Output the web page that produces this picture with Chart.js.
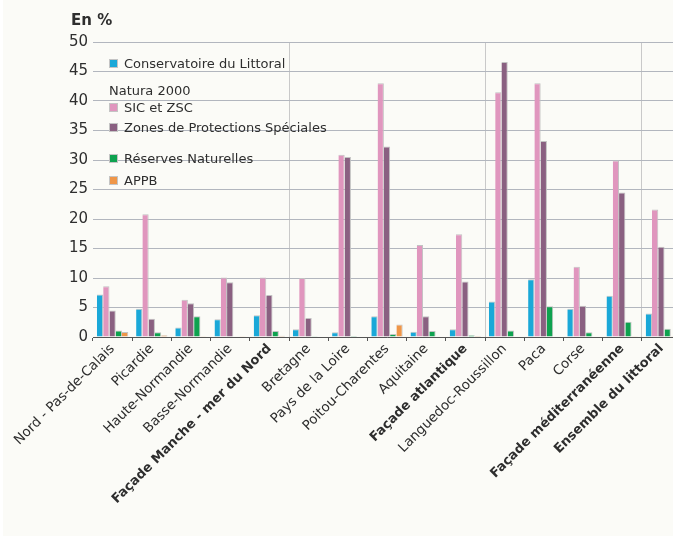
<!DOCTYPE html>
<html lang="fr">
<head>
    <meta charset="UTF-8">
    <title>Protection du littoral</title>
    <script src="https://cdn.jsdelivr.net/npm/chart.js"></script>
    <style>
        html, body {
            margin: 0;
            padding: 0;
            background: #ffffff;
            overflow: hidden;
            font-family: 'DejaVu Sans', sans-serif;
            color: #2e2e2e;
        }
        #panel {
            position: absolute;
            left: 3px;
            top: 0;
            width: 670px;
            height: 536px;
            background: #fbfbf7;
        }
        #wrap {
            position: absolute;
            left: 0;
            top: 0;
            width: 700px;
            height: 538px;
        }
        #titre {
            position: absolute;
            left: 71px;
            top: 11px;
            font-weight: bold;
            font-size: 15px;
        }
        .leg {
            position: absolute;
            font-size: 13px;
            line-height: 16px;
            white-space: nowrap;
        }
        .leg i {
            position: absolute;
            left: -15px;
            top: 3px;
            width: 9px;
            height: 9px;
            box-sizing: border-box;
            border: 1px solid #c4c4c4;
        }
    </style>
</head>
<body>

<div id="panel"></div>
<div id="wrap"><canvas id="myChart"></canvas></div>
<div id="titre">En %</div>
<div id="legende"></div>

<script>
    // données
    const regions = ['Nord - Pas-de-Calais', 'Picardie', 'Haute-Normandie', 'Basse-Normandie',
        'Façade Manche - mer du Nord', 'Bretagne', 'Pays de la Loire', 'Poitou-Charentes',
        'Aquitaine', 'Façade atlantique', 'Languedoc-Roussillon', 'Paca', 'Corse',
        'Façade méditerranéenne', 'Ensemble du littoral'];
    const facades = ['Façade Manche - mer du Nord', 'Façade atlantique', 'Façade méditerranéenne', 'Ensemble du littoral'];

    const conservatoire = [7.2, 4.8, 1.6, 3.0, 3.7, 1.3, 0.8, 3.5, 0.9, 1.3, 6.0, 9.8, 4.8, 7.0, 4.0];
    const sicZsc = [8.6, 20.8, 6.3, 10.1, 10.1, 10.0, 30.9, 43.0, 15.6, 17.4, 41.5, 43.0, 11.9, 29.9, 21.6];
    const zps = [4.5, 3.1, 5.7, 9.3, 7.1, 3.2, 30.5, 32.3, 3.5, 9.4, 46.6, 33.2, 5.3, 24.5, 15.3];
    const reserves = [1.1, 0.8, 3.5, 0.1, 1.0, 0.05, 0.15, 0.5, 1.0, 0.3, 1.1, 5.2, 0.8, 2.6, 1.4];
    const appb = [0.85, 0.3, 0.05, 0.05, 0.2, 0, 0, 2.1, 0, 0.15, 0, 0.1, 0, 0.05, 0.05];

    const seriesNames = ['Conservatoire du Littoral', 'SIC et ZSC', 'Zones de Protections Spéciales', 'Réserves Naturelles', 'APPB'];
    const seriesColors = ['#1aa8d8', '#e096be', '#8a6081', '#0ea24f', '#ef9648'];
    const seriesData = [conservatoire, sicZsc, zps, reserves, appb];

    // séparateurs verticaux avant ces index
    const separateurs = [5, 10, 14];

    Chart.defaults.font.family = "'DejaVu Sans', sans-serif";
    Chart.defaults.color = '#2e2e2e';

    const ctx = document.getElementById('myChart').getContext('2d');
    const chart = new Chart(ctx, {
        type: 'bar',
        data: {
            labels: regions,
            datasets: seriesData.map((d, i) => ({
                label: seriesNames[i],
                data: d,
                backgroundColor: seriesColors[i],
                borderColor: '#c2c2c2',
                borderWidth: { top: 1, right: 1, left: 0, bottom: 0 },
                barPercentage: 1,
                categoryPercentage: 0.8
            }))
        },
        options: {
            responsive: true,
            maintainAspectRatio: false,
            animation: false,
            layout: {
                padding: { top: 42, right: 19, bottom: 0, left: 0 }
            },
            plugins: {
                legend: { display: false },
                tooltip: { enabled: false }
            },
            scales: {
                x: {
                    afterFit: s => { s.height = 201; },
                    grid: {
                        offset: true,
                        color: c => separateurs.includes(c.index) ? '#c9c9c9' : 'rgba(0,0,0,0)',
                        tickColor: '#555',
                        tickLength: 4
                    },
                    border: { color: '#555' },
                    ticks: {
                        autoSkip: false,
                        minRotation: 45,
                        maxRotation: 45,
                        padding: 0,
                        color: '#2e2e2e',
                        font: c => (facades.includes(regions[c.index])
                            ? { size: 13, weight: 'bold' }
                            : { size: 13.5, weight: 'normal' })
                    }
                },
                y: {
                    min: 0,
                    max: 50,
                    afterFit: s => { s.width = 93; },
                    border: { display: false },
                    grid: {
                        color: '#b2b6be',
                        drawTicks: false
                    },
                    ticks: {
                        stepSize: 5,
                        padding: 5,
                        color: '#2e2e2e',
                        font: { size: 15 }
                    }
                }
            }
        }
    });

    // légende à la main (avec le titre Natura 2000)
    const legTops = [56, 100, 120, 151, 173];
    const leg = document.getElementById('legende');
    seriesNames.forEach((n, i) => {
        const el = document.createElement('div');
        el.className = 'leg';
        el.style.left = '124px';
        el.style.top = legTops[i] + 'px';
        el.innerHTML = '<i style="background:' + seriesColors[i] + '"></i>' + n;
        leg.appendChild(el);
    });
    const natura = document.createElement('div');
    natura.className = 'leg';
    natura.style.left = '109px';
    natura.style.top = '83px';
    natura.textContent = 'Natura 2000';
    leg.appendChild(natura);
</script>

</body>
</html>
